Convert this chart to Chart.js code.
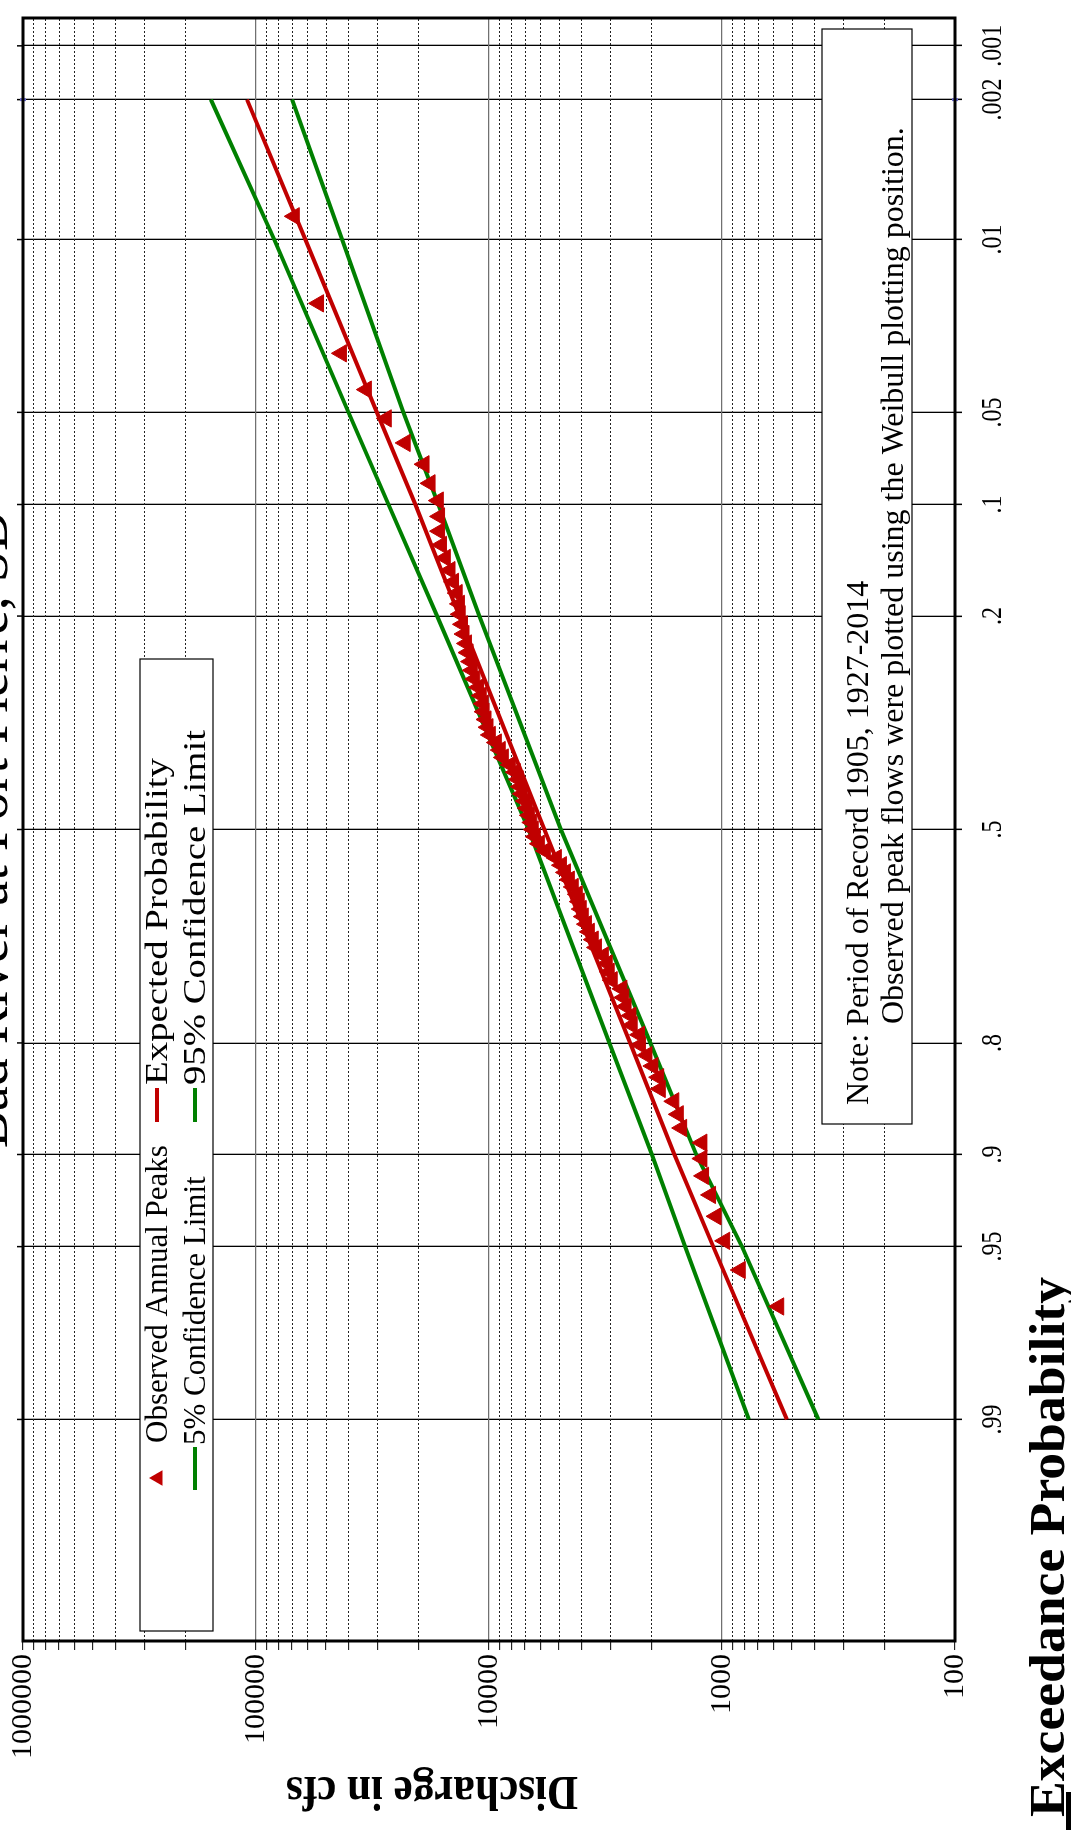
<!DOCTYPE html>
<html lang="en">
<head>
  <meta charset="UTF-8" />
  <title>Bad River at Fort Pierre, SD</title>
  <!-- Chart.js -->
  <script src="https://cdn.jsdelivr.net/npm/chart.js"></script>
  <style>
    body { margin: 0; background: #fff; width: 1071px; height: 1830px; overflow: hidden; position: relative; }
    /* the chart is drawn landscape and then turned a quarter turn to the left */
    #turn { position: absolute; left: 0; top: 1830px; width: 1830px; height: 1071px; transform-origin: 0 0; transform: rotate(-90deg); background: #fff; }
  </style>
</head>
<body>
  <div id="turn"><canvas id="freqChart" width="1830" height="1071"></canvas></div>

  <script>
    // exceedance probabilities shown on the bottom axis
    const probTicks = [0.99, 0.95, 0.9, 0.8, 0.5, 0.2, 0.1, 0.05, 0.01, 0.002, 0.001];
    const probLabels = ['.99', '.95', '.9', '.8', '.5', '.2', '.1', '.05', '.01', '.002', '.001'];
    const flowDecades = [100, 1000, 10000, 100000, 1000000];
    const flowLabels = ['100', '1000', '10000', '100000', '1000000'];

    // observed annual peaks (Weibull plotting position, cfs)
    const peakProb = [
      0.0078, 0.0190, 0.0302, 0.0414, 0.0525, 0.0637, 0.0749, 0.0861, 0.0973, 0.1085,
      0.1197, 0.1309, 0.1421, 0.1532, 0.1644, 0.1756, 0.1868, 0.1980, 0.2092, 0.2204,
      0.2316, 0.2427, 0.2539, 0.2651, 0.2763, 0.2875, 0.2987, 0.3099, 0.3211, 0.3322,
      0.3434, 0.3546, 0.3658, 0.3770, 0.3882, 0.3994, 0.4106, 0.4217, 0.4329, 0.4441,
      0.4553, 0.4665, 0.4777, 0.4889, 0.5001, 0.5113, 0.5224, 0.5336, 0.5448, 0.5560,
      0.5672, 0.5784, 0.5896, 0.6008, 0.6119, 0.6231, 0.6343, 0.6455, 0.6567, 0.6679,
      0.6791, 0.6903, 0.7014, 0.7126, 0.7238, 0.7350, 0.7462, 0.7574, 0.7686, 0.7798,
      0.7909, 0.8021, 0.8133, 0.8245, 0.8357, 0.8469, 0.8581, 0.8693, 0.8804, 0.8916,
      0.9028, 0.9140, 0.9252, 0.9364, 0.9476, 0.9588, 0.9700
    ];
    const peakFlow = [
      68500, 53900, 43000, 33600, 27600, 22900, 19000, 17900, 16500, 16300,
      16300, 16000, 15400, 14700, 14200, 13700, 13400, 13300, 13000, 12800,
      12500, 12300, 12000, 11800, 11500, 11100, 10800, 10600, 10500, 10300,
      10100, 9870, 9300, 8950, 8680, 8100, 7710, 7490, 7340, 7200,
      6990, 6850, 6710, 6550, 6460, 6330, 6080, 5730, 5140, 4890,
      4700, 4520, 4350, 4180, 4100, 4020, 3940, 3820, 3710, 3570,
      3460, 3230, 3110, 3050, 2960, 2690, 2640, 2580, 2460, 2430,
      2260, 2240, 2100, 1980, 1870, 1840, 1610, 1540, 1490, 1220,
      1220, 1200, 1120, 1060, 974, 835, 571
    ];

    // frequency curves
    const curveProb = [0.002, 0.01, 0.05, 0.1, 0.2, 0.5, 0.8, 0.9, 0.95, 0.99];
    const expectedFlow = [109300, 61400, 30300, 20700, 13400, 5790, 2480, 1600, 1090, 527];
    const conf05Flow = [156100, 83500, 40100, 27000, 16700, 6760, 3040, 2000, 1440, 767];
    const conf95Flow = [69900, 42700, 23300, 16500, 11000, 4910, 2030, 1290, 821, 386];

    const RED = '#c00000', GREEN = '#008000';
    const SERIF = '"Liberation Serif", "Times New Roman", serif';

    // inverse normal CDF (Acklam) - turns a probability into a position on the probability paper
    function invNorm(p) {
      const a = [-39.69683028665376, 220.9460984245205, -275.9285104469687, 138.3577518672690, -30.66479806614716, 2.506628277459239];
      const b = [-54.47609879822406, 161.5858368580409, -155.6989798598866, 66.80131188771972, -13.28068155288572];
      const c = [-0.007784894002430293, -0.3223964580411365, -2.400758277161838, -2.549671348433635, 4.374664141464968, 2.938163982698783];
      const d = [0.007784695709041462, 0.3224671290700398, 2.445134137142996, 3.754408661907416];
      const lo = 0.02425;
      if (p < lo) {
        const q = Math.sqrt(-2 * Math.log(p));
        return (((((c[0]*q+c[1])*q+c[2])*q+c[3])*q+c[4])*q+c[5]) / ((((d[0]*q+d[1])*q+d[2])*q+d[3])*q+1);
      }
      if (p > 1 - lo) {
        const q = Math.sqrt(-2 * Math.log(1 - p));
        return -(((((c[0]*q+c[1])*q+c[2])*q+c[3])*q+c[4])*q+c[5]) / ((((d[0]*q+d[1])*q+d[2])*q+d[3])*q+1);
      }
      const q = p - 0.5, r = q * q;
      return (((((a[0]*r+a[1])*r+a[2])*r+a[3])*r+a[4])*r+a[5])*q / (((((b[0]*r+b[1])*r+b[2])*r+b[3])*r+b[4])*r+1);
    }
    const toZ = p => invNorm(1 - p);
    const isDecade = v => flowDecades.includes(v);

    // all log ticks 1..9 in each decade
    const flowTicks = [];
    flowDecades.forEach(d => { for (let k = 1; k <= 9; k++) if (d * k <= 1000000) flowTicks.push(d * k); });

    const pts = (probs, flows) => probs.map((p, i) => ({ x: toZ(p), y: flows[i] }));

    function tri(ctx, x, y, r) {
      ctx.beginPath();
      ctx.moveTo(x, y - r);
      ctx.lineTo(x + r * 0.866, y + r * 0.5);
      ctx.lineTo(x - r * 0.866, y + r * 0.5);
      ctx.closePath();
      ctx.fill();
    }
    // squeezed / stretched text, like the fitted labels of the original
    function scaledText(ctx, txt, x, y, sx) {
      ctx.save(); ctx.translate(x, y); ctx.scale(sx, 1); ctx.fillText(txt, 0, 0); ctx.restore();
    }
    function fitText(ctx, txt, x, y, w) {
      scaledText(ctx, txt, x, y, w / ctx.measureText(txt).width);
    }

    // frame, legend, note and titles
    const decor = {
      id: 'decor',
      afterDatasetsDraw(chart) {
        const { ctx, chartArea: a, scales: { x } } = chart;
        ctx.save();
        // ticks crossing the top frame
        ctx.strokeStyle = '#000'; ctx.lineWidth = 1.5;
        probTicks.forEach(p => {
          const px = x.getPixelForValue(toZ(p));
          ctx.beginPath(); ctx.moveTo(px, a.top - 6); ctx.lineTo(px, a.top); ctx.stroke();
        });
        // small blue marks at .002
        const p2 = x.getPixelForValue(toZ(0.002));
        ctx.strokeStyle = '#6a6ad0'; ctx.lineWidth = 3;
        ctx.beginPath(); ctx.moveTo(p2, a.top - 3); ctx.lineTo(p2, a.top + 3); ctx.stroke();
        ctx.beginPath(); ctx.moveTo(p2, a.bottom - 3); ctx.lineTo(p2, a.bottom + 3); ctx.stroke();
        // frame
        ctx.strokeStyle = '#000'; ctx.lineWidth = 3;
        ctx.strokeRect(a.left, a.top, a.right - a.left, a.bottom - a.top);

        // probability labels
        ctx.fillStyle = '#000'; ctx.font = '30px ' + SERIF; ctx.textAlign = 'center'; ctx.textBaseline = 'alphabetic';
        probTicks.forEach((p, i) => scaledText(ctx, probLabels[i], x.getPixelForValue(toZ(p)), 1001, 0.8));

        // legend box
        ctx.fillStyle = '#fff'; ctx.lineWidth = 1.2;
        ctx.fillRect(199, 140, 972, 73); ctx.strokeRect(199, 140, 972, 73);
        ctx.font = '31px ' + SERIF; ctx.textAlign = 'left';
        ctx.fillStyle = RED; tri(ctx, 352, 158, 9);
        ctx.lineWidth = 4;
        ctx.strokeStyle = GREEN; ctx.beginPath(); ctx.moveTo(340, 195); ctx.lineTo(383, 195); ctx.stroke();
        ctx.strokeStyle = RED; ctx.beginPath(); ctx.moveTo(708, 157); ctx.lineTo(742, 157); ctx.stroke();
        ctx.strokeStyle = GREEN; ctx.beginPath(); ctx.moveTo(708, 195); ctx.lineTo(742, 195); ctx.stroke();
        ctx.fillStyle = '#000';
        ctx.fillText('Observed Annual Peaks', 387, 167);
        ctx.fillText('5% Confidence Limit', 385, 205);
        fitText(ctx, 'Expected Probability', 745, 167, 327);
        fitText(ctx, '95% Confidence Limit', 745, 205, 355);

        // note box
        ctx.fillStyle = '#fff'; ctx.strokeStyle = '#000'; ctx.lineWidth = 1.2;
        ctx.fillRect(706, 822, 1095, 90); ctx.strokeRect(706, 822, 1095, 90);
        ctx.fillStyle = '#000'; ctx.font = '32px ' + SERIF;
        ctx.fillText('Note: Period of Record 1905, 1927-2014', 725, 868);
        ctx.fillText('Observed peak flows were plotted using the Weibull plotting position.', 806, 903);

        // chart title (runs off the page edge)
        ctx.font = '56px ' + SERIF; ctx.textAlign = 'center';
        ctx.fillText('Bad River at Fort Pierre, SD', (a.left + a.right) / 2, 7);

        // axis titles
        ctx.font = 'bold 50px ' + SERIF;
        fitText(ctx, 'Exceedance Probability', 283, 1064, 540);
        ctx.save();
        ctx.translate(41, 432); ctx.rotate(-Math.PI / 2);
        ctx.font = 'bold 48px ' + SERIF; ctx.textBaseline = 'middle';
        fitText(ctx, 'Discharge in cfs', 0, 0, 292);
        ctx.restore();

        // cut-off mark at the page corner
        ctx.fillRect(0, 1066, 38, 5);
        ctx.restore();
      }
    };

    new Chart(document.getElementById('freqChart'), {
      type: 'scatter',
      data: {
        datasets: [
          { label: 'Observed Annual Peaks', data: pts(peakProb, peakFlow), pointStyle: 'triangle', pointRadius: 10, pointHoverRadius: 10,
            backgroundColor: RED, borderColor: RED, borderWidth: 1, showLine: false },
          { label: 'Expected Probability', data: pts(curveProb, expectedFlow), showLine: true, borderColor: RED, borderWidth: 4, pointRadius: 0, fill: false },
          { label: '5% Confidence Limit', data: pts(curveProb, conf05Flow), showLine: true, borderColor: GREEN, borderWidth: 4, pointRadius: 0, fill: false },
          { label: '95% Confidence Limit', data: pts(curveProb, conf95Flow), showLine: true, borderColor: GREEN, borderWidth: 4, pointRadius: 0, fill: false }
        ]
      },
      options: {
        responsive: false,
        animation: false,
        devicePixelRatio: 1,
        layout: { padding: { top: 23, right: 18, left: 0, bottom: 0 } },
        plugins: { legend: { display: false }, title: { display: false }, tooltip: { enabled: false } },
        scales: {
          x: {
            type: 'linear', position: 'bottom', min: -3.2, max: 3.2,
            afterBuildTicks: s => { s.ticks = probTicks.map(p => ({ value: toZ(p) })); },
            afterFit: s => { s.height = 116; },
            ticks: { display: false, autoSkip: false, maxRotation: 0 },
            grid: { color: '#000', lineWidth: 1.3, tickLength: 7, tickColor: '#000', tickWidth: 1.5 },
            border: { display: false }
          },
          y: {
            type: 'logarithmic', position: 'left', min: 100, max: 1000000,
            afterBuildTicks: s => { s.ticks = flowTicks.map(v => ({ value: v, major: isDecade(v) })); },
            afterFit: s => { s.width = 189; },
            ticks: { autoSkip: false, padding: 4, color: '#000', font: { family: SERIF, size: 30 },
              callback: v => isDecade(v) ? flowLabels[flowDecades.indexOf(v)] : '' },
            grid: { color: c => isDecade(c.tick.value) ? '#707070' : 'rgba(0,0,0,0)', lineWidth: 1.3,
              tickLength: 9, tickColor: '#000', tickWidth: 1 },
            border: { display: false }
          },
          yMinor: {
            type: 'logarithmic', position: 'left', min: 100, max: 1000000,
            afterBuildTicks: s => { s.ticks = flowTicks.map(v => ({ value: v })); },
            afterFit: s => { s.width = 0; },
            ticks: { display: false },
            grid: { color: c => isDecade(c.tick.value) ? 'rgba(0,0,0,0)' : '#222', lineWidth: 1, drawTicks: false, borderDash: [2, 2] },
            border: { display: false, dash: [2, 2] }
          }
        }
      },
      plugins: [decor]
    });
  </script>
</body>
</html>
